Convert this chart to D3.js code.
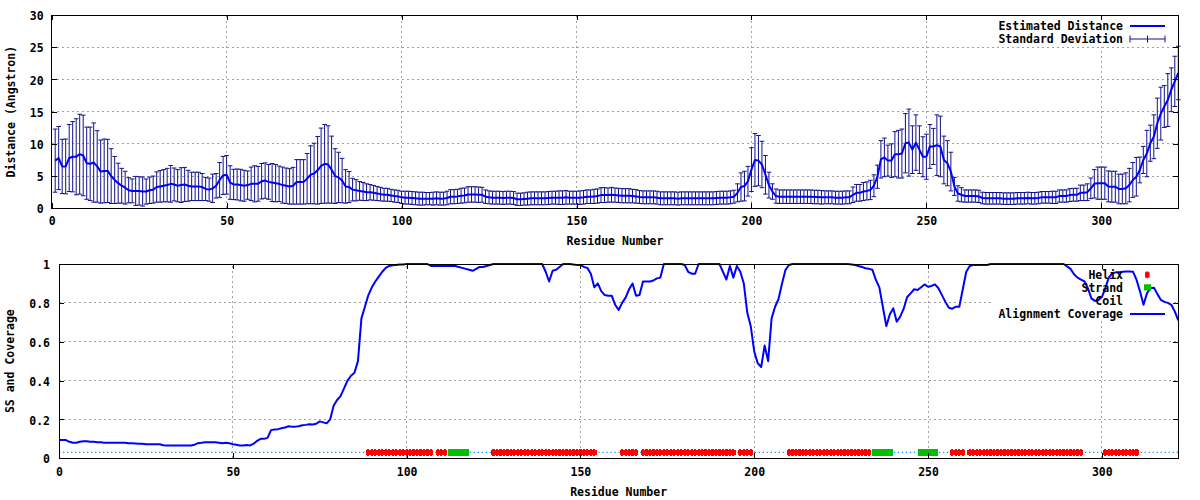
<!DOCTYPE html>
<html><head><meta charset="utf-8">
<script src="https://cdn.jsdelivr.net/npm/d3@7"></script>
<style>
body{margin:0;background:#fff}
svg{display:block}
text{font-family:"DejaVu Sans Mono",monospace;font-weight:bold;font-size:11.5px;fill:#000}
</style>
</head><body>
<svg id="c" width="1200" height="500"></svg>
<script>
// ---------------- DATA ----------------
const xTicks = [0, 50, 100, 150, 200, 250, 300];
const distTicks = [0, 5, 10, 15, 20, 25, 30];
const covTicks = [0, 0.2, 0.4, 0.6, 0.8, 1];
const covTickLabels = ["0", "0.2", "0.4", "0.6", "0.8", "1"];
const residueMax = 322;

// Estimated distance (residues 1..322)
const meanDist = [
  7.4,7.8,6.5,6.5,7.8,8.0,8.0,8.4,8.2,7.0,
  6.9,7.1,6.5,5.7,5.8,5.8,5.0,4.4,3.9,3.5,
  3.2,2.8,2.7,2.7,2.7,2.6,2.6,2.8,2.9,3.3,
  3.4,3.5,3.6,3.8,3.7,3.5,3.6,3.7,3.5,3.4,
  3.4,3.4,3.3,3.0,2.9,3.1,3.5,4.4,5.1,5.2,
  4.0,3.7,3.7,3.6,3.5,3.6,3.8,3.8,3.8,4.2,
  4.3,4.1,4.0,3.9,3.8,3.6,3.5,3.4,3.5,4.1,
  4.1,4.1,4.6,5.2,5.4,5.9,6.6,6.9,6.8,6.0,
  5.0,4.8,4.3,3.4,3.3,2.9,2.8,2.7,2.6,2.5,
  2.5,2.4,2.3,2.2,2.1,2.1,2.0,1.9,1.85,1.7,
  1.65,1.65,1.6,1.55,1.5,1.5,1.5,1.5,1.5,1.55,
  1.5,1.5,1.6,1.8,1.8,1.85,1.95,2.0,2.15,2.15,
  2.15,2.1,2.1,1.8,1.7,1.65,1.65,1.65,1.6,1.65,
  1.65,1.6,1.4,1.4,1.45,1.5,1.55,1.55,1.55,1.55,
  1.55,1.6,1.65,1.65,1.65,1.65,1.7,1.65,1.65,1.65,
  1.65,1.7,1.8,1.8,1.85,1.9,2.05,2.05,2.05,2.1,
  2.05,2.0,1.95,1.95,1.95,1.9,1.85,1.75,1.7,1.7,
  1.7,1.7,1.65,1.55,1.55,1.55,1.55,1.55,1.5,1.55,
  1.55,1.55,1.55,1.55,1.55,1.55,1.55,1.55,1.55,1.6,
  1.65,1.65,1.65,1.7,1.8,2.4,3.3,3.45,4.2,6.0,
  7.5,7.4,6.8,5.2,3.6,2.6,1.9,1.8,1.8,1.8,
  1.8,1.8,1.8,1.8,1.8,1.8,1.8,1.75,1.75,1.7,
  1.7,1.7,1.7,1.65,1.65,1.65,1.7,1.7,2.1,2.4,
  2.4,2.6,2.7,2.85,3.5,4.9,7.6,7.9,7.4,7.4,
  8.4,8.4,8.5,10.1,10.2,9.1,10.2,9.1,8.0,8.0,
  9.6,9.6,9.8,9.6,7.5,7.0,5.7,3.4,2.3,2.1,
  1.9,1.9,1.9,1.9,1.85,1.6,1.55,1.55,1.55,1.55,
  1.55,1.5,1.5,1.5,1.5,1.55,1.55,1.55,1.6,1.55,
  1.55,1.6,1.7,1.7,1.7,1.7,1.7,1.9,1.9,1.9,
  2.05,2.1,2.1,2.4,2.4,2.5,3.1,3.8,3.9,3.9,
  3.9,3.4,3.35,3.35,3.0,3.0,3.1,3.6,4.4,4.9,
  5.95,7.5,8.5,10.1,11.1,13.2,14.7,15.8,16.8,18.4,
  19.7,21.0
];

// Standard deviation (residues 1..322)
const sdDist = [
  4.9,4.9,4.2,4.25,5.2,5.45,5.9,6.2,6.25,5.6,
  5.7,6.15,5.55,4.9,4.95,4.9,4.25,3.65,3.1,2.7,
  2.55,1.95,1.85,2.25,2.2,2.25,1.95,2.05,2.1,2.35,
  2.45,2.5,2.6,2.85,2.55,2.5,2.7,2.65,2.4,2.2,
  2.2,2.2,2.1,1.8,1.8,2.2,1.9,2.7,2.95,3.0,
  2.6,2.35,2.4,2.45,2.4,2.2,2.6,2.8,2.7,2.75,
  2.75,2.7,2.95,2.9,2.75,2.8,2.75,2.75,2.85,3.45,
  3.45,3.45,3.9,4.5,4.7,5.25,5.85,6.1,6.0,5.2,
  4.25,3.9,3.45,2.6,2.4,1.75,1.65,1.45,1.4,1.3,
  1.2,1.15,1.1,1.05,1.0,1.0,0.95,0.95,0.95,0.95,
  1.0,1.0,1.0,1.0,1.0,1.0,0.95,0.95,1.0,1.0,
  1.0,1.0,1.05,1.1,1.1,1.1,1.15,1.15,1.2,1.2,
  1.2,1.2,1.15,1.05,1.0,1.0,1.0,1.0,1.0,1.0,
  1.0,1.0,0.95,0.95,0.95,1.0,1.0,1.0,1.0,1.0,
  1.0,1.0,1.0,1.0,1.05,1.05,1.05,1.0,1.0,1.0,
  1.05,1.05,1.05,1.05,1.1,1.1,1.15,1.15,1.1,1.15,
  1.1,1.1,1.1,1.1,1.1,1.05,1.05,1.0,1.0,1.0,
  1.0,1.0,1.0,1.0,1.0,1.0,1.0,1.0,1.0,1.0,
  1.0,1.0,1.0,1.0,1.0,1.0,1.0,1.0,1.0,1.0,
  1.0,1.0,1.0,1.0,1.0,1.4,2.2,2.3,2.3,3.4,
  4.1,3.9,3.6,3.0,2.0,1.2,1.1,1.05,1.05,1.05,
  1.05,1.05,1.05,1.05,1.05,1.05,1.05,1.05,1.05,1.05,
  1.0,1.0,1.0,1.0,1.0,1.0,1.0,1.0,1.2,1.3,
  1.3,1.4,1.4,1.5,1.7,1.8,2.9,3.0,2.4,2.6,
  3.5,3.7,3.8,4.6,5.2,3.7,4.3,3.7,3.1,3.5,
  3.4,2.8,4.7,4.7,3.7,3.5,3.0,1.4,1.2,1.1,
  0.95,0.95,0.95,0.95,0.95,0.9,0.9,0.9,0.9,0.9,
  0.9,0.9,0.9,0.9,0.9,0.9,0.9,0.9,0.9,0.9,
  0.9,0.9,0.9,0.9,0.9,0.95,0.95,0.95,0.95,0.95,
  1.0,1.0,1.0,1.2,1.2,1.3,1.6,2.2,2.5,2.5,
  2.5,2.4,2.4,2.4,2.3,2.3,2.4,2.6,2.7,3.0,
  2.0,2.1,3.6,2.8,3.4,3.9,4.1,3.25,4.1,3.4,
  3.9,4.15
];

// Alignment coverage (residues 0..322)
const coverage = [
  .094,.094,.094,.085,.08,.08,.085,.088,.088,.085,
  .085,.083,.082,.08,.08,.08,.08,.08,.08,.08,
  .077,.077,.076,.075,.075,.072,.072,.072,.072,.072,
  .067,.066,.066,.066,.066,.066,.066,.066,.066,.07,
  .078,.08,.083,.083,.083,.083,.08,.077,.08,.078,
  .072,.07,.066,.066,.068,.066,.075,.09,.1,.1,
  .105,.145,.148,.15,.155,.158,.165,.163,.163,.165,
  .17,.172,.175,.174,.178,.19,.185,.18,.2,.27,
  .3,.32,.36,.4,.425,.44,.5,.72,.78,.84,
  .88,.91,.935,.96,.98,.99,.993,.995,.997,.998,
  1,1,1,1,1,1,1,.99,.99,.99,
  .99,.99,.99,.99,.99,.985,.98,.975,.97,.965,
  .975,.985,.985,.99,.995,1,1,1,1,1,
  1,1,1,1,1,1,1,1,1,1,
  .96,.91,.965,.97,.985,1,1,1,.997,.995,
  .995,.985,.98,.95,.88,.9,.86,.84,.837,.837,
  .79,.763,.8,.827,.87,.9,.837,.84,.91,.91,
  .91,.915,.926,.93,1,1,1,1,1,1,
  .995,.96,.95,.95,1,1,1,1,1,1,
  1,.96,.92,.99,.93,.99,.96,.9,.75,.68,
  .55,.49,.47,.58,.5,.72,.78,.82,.9,.97,
  .995,1,1,1,1,1,1,1,1,1,
  1,1,1,1,1,1,1,1,.998,.995,
  .99,.985,.978,.975,.97,.918,.88,.78,.68,.74,
  .772,.703,.729,.77,.83,.849,.87,.866,.88,.895,
  .883,.887,.895,.875,.84,.805,.775,.77,.78,.78,
  .87,.96,.99,.995,.995,.995,.995,.995,1,1,
  1,1,1,1,1,1,1,1,1,1,
  1,1,1,1,1,1,1,1,1,1,
  .988,.975,.947,.93,.92,.91,.875,.823,.81,.815,
  .83,.875,.93,.952,.957,.958,.96,.962,.962,.96,
  .918,.858,.79,.85,.875,.878,.845,.815,.805,.8,
  .79,.755,.71
];

// Secondary structure segments (first, last residue)
const helixSegments = [[89,107],[109,111],[125,154],[162,166],[168,194],[196,199],[210,233],[257,260],[262,294],[301,310]];
const strandSegments = [[113,117],[235,239],[248,252]];
const ssLevel = 0.03;

// ---------------- DRAWING ----------------
const svg = d3.select('#c');
const FONT = '"DejaVu Sans Mono", monospace';
const gridColor = '#a0a0a0';

const xTop = d3.scaleLinear().domain([0, residueMax]).range([51.7, 1178.3]);
const yTop = d3.scaleLinear().domain([0, 30]).range([208.3, 15]);
const xBot = d3.scaleLinear().domain([0, residueMax]).range([59, 1178.3]);
const yBot = d3.scaleLinear().domain([0, 1]).range([458.3, 264]);

function frameBack(x, y, xt, yt, legendBox) {
  const g = svg.append('g');
  const [x0, x1] = x.range(), [y0, y1] = y.range();
  g.selectAll('line.gx').data(xt.filter(v => x(v) > x0 + 1 && x(v) < x1 - 1)).join('line')
    .attr('x1', d => x(d)).attr('x2', d => x(d)).attr('y1', y0).attr('y2', y1)
    .attr('stroke', gridColor).attr('stroke-dasharray', '2,3').attr('shape-rendering', 'crispEdges');
  g.selectAll('line.gy').data(yt.filter(v => y(v) < y0 - 1 && y(v) > y1 + 1)).join('line')
    .attr('y1', d => y(d)).attr('y2', d => y(d)).attr('x1', x0).attr('x2', x1)
    .attr('stroke', gridColor).attr('stroke-dasharray', '2,3').attr('shape-rendering', 'crispEdges');
  // opaque key area
  g.append('rect').attr('x', legendBox[0]).attr('y', legendBox[1])
    .attr('width', legendBox[2]).attr('height', legendBox[3]).attr('fill', '#fff');
}

function frameFront(x, y, xt, yt, yFmt, xLabY, yLabGap, xTitle, xTitleY, yTitle, yTitleX) {
  const g = svg.append('g');
  const [x0, x1] = x.range(), [y0, y1] = y.range();
  const ab = g.append('g').attr('transform', `translate(0,${y0})`)
    .call(d3.axisBottom(x).tickValues(xt).tickSize(-5).tickFormat(d3.format('d')));
  ab.selectAll('text').attr('y', xLabY).attr('dy', null);
  const at = g.append('g').attr('transform', `translate(0,${y1})`)
    .call(d3.axisTop(x).tickValues(xt).tickSize(-5).tickFormat(''));
  const al = g.append('g').attr('transform', `translate(${x0},0)`)
    .call(d3.axisLeft(y).tickValues(yt).tickSize(-5).tickPadding(yLabGap).tickFormat(yFmt));
  al.selectAll('text').attr('dy', '0.4em');
  const ar = g.append('g').attr('transform', `translate(${x1},0)`)
    .call(d3.axisRight(y).tickValues(yt).tickSize(-5).tickFormat(''));
  [ab, at, al, ar].forEach(a => {
    a.select('.domain').remove();
    a.selectAll('line').attr('stroke', '#000').attr('shape-rendering', 'crispEdges');
    a.selectAll('text').attr('font-family', FONT).attr('font-weight', 'bold')
      .attr('font-size', '11.5px').attr('fill', '#000');
  });
  g.append('rect').attr('x', x0).attr('y', y1).attr('width', x1 - x0).attr('height', y0 - y1)
    .attr('fill', 'none').attr('stroke', '#000').attr('shape-rendering', 'crispEdges');
  g.append('text').attr('x', (x0 + x1) / 2).attr('y', xTitleY).attr('text-anchor', 'middle').text(xTitle);
  g.append('text').attr('transform', `translate(${yTitleX},${(y0 + y1) / 2}) rotate(-90)`)
    .attr('text-anchor', 'middle').text(yTitle);
}

// ===== TOP PANEL =====
frameBack(xTop, yTop, xTicks, distTicks, [995, 16, 176, 31]);

const distData = meanDist.map((m, i) => ({ r: i + 1, m, s: sdDist[i] }));
const eb = svg.append('g').attr('stroke', '#10108c').attr('stroke-width', 1).attr('fill', 'none');
const cap = 2.3;
eb.selectAll('path').data(distData).join('path')
  .attr('d', d => {
    const x = xTop(d.r), yt = yTop(d.m + d.s), yb = yTop(d.m - d.s);
    return `M${x},${yb}V${yt}M${x - cap},${yt}H${x + cap}M${x - cap},${yb}H${x + cap}`;
  });

svg.append('path').datum(distData)
  .attr('d', d3.line().x(d => xTop(d.r)).y(d => yTop(d.m)))
  .attr('fill', 'none').attr('stroke', '#0000ff').attr('stroke-width', 2).attr('stroke-linejoin', 'round');

frameFront(xTop, yTop, xTicks, distTicks, d3.format('d'), 17, 8,
  'Residue Number', 245, 'Distance (Angstron)', 14.5);

// top legend
const lgT = svg.append('g');
lgT.append('text').attr('x', 1123).attr('y', 30).attr('text-anchor', 'end').text('Estimated Distance');
lgT.append('text').attr('x', 1123).attr('y', 43).attr('text-anchor', 'end').text('Standard Deviation');
lgT.append('line').attr('x1', 1130).attr('x2', 1165).attr('y1', 26).attr('y2', 26)
  .attr('stroke', '#0000ff').attr('stroke-width', 2);
lgT.append('path').attr('d', 'M1130,39H1165M1130,35.5V42.5M1165,35.5V42.5M1147.5,35.5V42.5')
  .attr('stroke', '#10108c').attr('fill', 'none');

// ===== BOTTOM PANEL =====
frameBack(xBot, yBot, xTicks, covTicks, [993, 266, 179, 53]);

// coil runs (residues not in helix/strand)
const ssType = {};
helixSegments.forEach(([a, b]) => { for (let r = a; r <= b; r++) ssType[r] = 'H'; });
strandSegments.forEach(([a, b]) => { for (let r = a; r <= b; r++) ssType[r] = 'E'; });
const coilRuns = [];
let start = null;
for (let r = 1; r <= residueMax; r++) {
  const isCoil = !ssType[r];
  if (isCoil && start === null) start = r;
  if ((!isCoil || r === residueMax) && start !== null) {
    coilRuns.push([start, isCoil ? r : r - 1]); start = null;
  }
}
const ySS = yBot(ssLevel);
svg.append('g').selectAll('line').data(coilRuns).join('line')
  .attr('x1', d => xBot(Math.max(0, d[0] - 1))).attr('x2', d => xBot(Math.min(residueMax, d[1] + 1)))
  .attr('y1', ySS).attr('y2', ySS)
  .attr('stroke', '#1a8cff').attr('stroke-width', 1.3).attr('stroke-dasharray', '1.3,2.7');

const helixRes = [];
helixSegments.forEach(([a, b]) => { for (let r = a; r <= b; r++) helixRes.push(r); });
const strandRes = [];
strandSegments.forEach(([a, b]) => { for (let r = a; r <= b; r++) strandRes.push(r); });

const hg = svg.append('g').attr('fill', '#ff0000').attr('shape-rendering', 'crispEdges');
hg.selectAll('rect.core').data(helixRes).join('rect').attr('class', 'core')
  .attr('x', d => xBot(d) - 2.3).attr('width', 4.6).attr('y', ySS - 2.6).attr('height', 5.2);
hg.selectAll('rect.tip').data(helixRes).join('rect').attr('class', 'tip')
  .attr('x', d => xBot(d) - 1.1).attr('width', 2.2).attr('y', ySS - 3.4).attr('height', 6.8);

svg.append('g').attr('fill', '#00c000').attr('shape-rendering', 'crispEdges')
  .selectAll('rect').data(strandRes).join('rect')
  .attr('x', d => xBot(d) - 3.5).attr('width', 7).attr('y', ySS - 3.6).attr('height', 7.2);

svg.append('path').datum(coverage)
  .attr('d', d3.line().x((d, i) => xBot(i)).y(d => yBot(d)))
  .attr('fill', 'none').attr('stroke', '#0000ff').attr('stroke-width', 2).attr('stroke-linejoin', 'round');

frameFront(xBot, yBot, xTicks, covTicks, (d, i) => covTickLabels[i], 18, 9,
  'Residue Number', 495.5, 'SS and Coverage', 14);

// bottom legend
const lgB = svg.append('g');
[['Helix', 279], ['Strand', 292], ['Coil', 305], ['Alignment Coverage', 318]].forEach(([t, y]) => {
  lgB.append('text').attr('x', 1123).attr('y', y).attr('text-anchor', 'end').text(t);
});
lgB.append('rect').attr('x', 1145).attr('y', 272.2).attr('width', 4.6).attr('height', 5.2).attr('fill', '#ff0000');
lgB.append('rect').attr('x', 1146.2).attr('y', 271.4).attr('width', 2.2).attr('height', 6.8).attr('fill', '#ff0000');
lgB.append('rect').attr('x', 1144).attr('y', 284.3).attr('width', 7).attr('height', 6.2).attr('fill', '#00c000');
lgB.append('line').attr('x1', 1130).attr('x2', 1165).attr('y1', 314).attr('y2', 314)
  .attr('stroke', '#0000ff').attr('stroke-width', 2);
</script>
</body></html>
